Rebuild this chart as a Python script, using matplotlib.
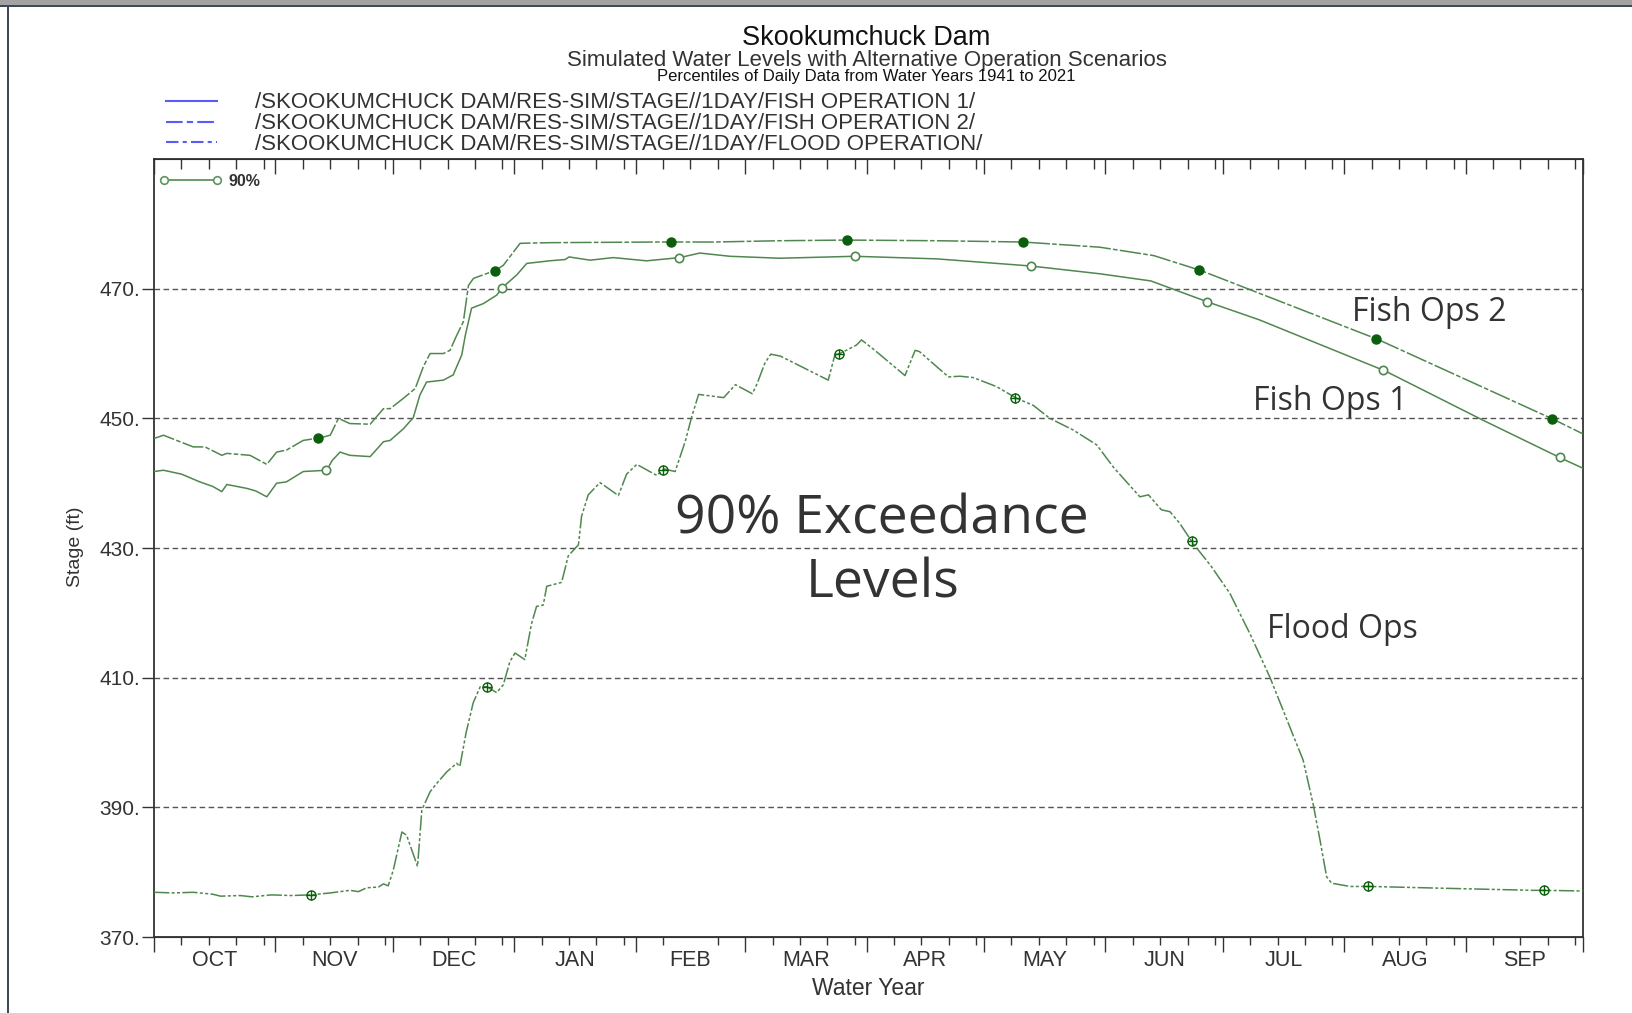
import numpy as np
import matplotlib
matplotlib.use("Agg")
import matplotlib.pyplot as plt
from matplotlib.patches import Rectangle
from matplotlib.lines import Line2D

# ---------------- data (day of water year, 0 = Oct 1) ----------------
month_names = ["OCT", "NOV", "DEC", "JAN", "FEB", "MAR", "APR", "MAY", "JUN", "JUL", "AUG", "SEP"]
month_starts = [0, 31, 61, 92, 123, 151, 182, 212, 243, 273, 304, 335, 365]
y_ticks = [370, 390, 410, 430, 450, 470]

fish1_days = [0, 2.4, 7, 11.7, 15, 17.3, 18.6, 23.7, 26, 28.8, 31.3, 33.8, 38.1, 44.1, 45.5,
              47.5, 50, 55.2, 58.6, 60.3, 63.7, 66.2, 67.9, 69.6, 73.9, 76.4, 78.6, 79.5, 81.1,
              84.1, 87.5, 89.2, 92.6, 95.2, 101, 105, 106, 111.4, 117.3, 125.8, 134.3, 139.4,
              147.1, 159.9, 179, 200, 224, 241.6, 254.6, 269.4, 282.3, 314.5, 339.5, 359.6, 365]
fish1_vals = [441.8, 442.0, 441.4, 440.2, 439.5, 438.7, 439.8, 439.2, 438.8, 437.9, 440.0, 440.2,
              441.8, 442.0, 443.5, 444.8, 444.3, 444.1, 446.4, 446.6, 448.4, 450.1, 453.6, 455.6,
              455.9, 456.7, 459.8, 462.8, 467.0, 467.7, 469.0, 470.3, 472.1, 473.9, 474.3, 474.5,
              474.9, 474.4, 474.8, 474.3, 474.8, 475.5, 475.0, 474.7, 475.0, 474.6, 473.5, 472.3,
              471.2, 467.9, 465.2, 457.3, 449.7, 443.8, 442.3]

fish2_days = [0, 2.4, 10, 13, 17.3, 18.6, 24.5, 28.8, 31.3, 33.8, 38.1, 42.4, 45, 47.1, 50, 55.2,
              58.6, 60.3, 63.7, 66.7, 68.8, 70.5, 73.9, 75.6, 77.3, 79, 80.3, 81.6, 87.1, 89.2,
              93.5, 101, 128.4, 142.8, 159.9, 177, 200, 222, 241.6, 255.4, 267.4, 312.5, 357.6, 365]
fish2_vals = [446.9, 447.4, 445.6, 445.6, 444.3, 444.6, 444.3, 442.9, 444.8, 445.1, 446.6, 447.0,
              447.4, 450.0, 449.2, 449.1, 451.5, 451.5, 453.1, 454.6, 458.0, 460.0, 460.0, 460.5,
              462.8, 464.9, 470.5, 471.6, 472.8, 473.6, 477.0, 477.1, 477.2, 477.2, 477.4, 477.5,
              477.4, 477.2, 476.4, 475.1, 472.8, 462.2, 449.8, 447.6]

flood_days = [0, 5, 10, 15, 17, 22, 25, 30, 35, 40, 45, 50, 52.2, 54.3, 57.3, 58.6, 59.8, 61.1,
              63.3, 64.5, 67.3, 68.4, 70.5, 72.2, 74.8, 77.3, 78.1, 79.7, 81.5, 83.3, 85, 87.5,
              89.2, 90.9, 92.2, 94.7, 96.4, 97.7, 99.4, 100.3, 104.1, 105.8, 108.4, 109.2, 110.9,
              113.9, 118.6, 120.7, 123.3, 128.4, 130.3, 133.1, 135.7, 137.4, 139.1, 145.5, 148.5,
              152.8, 154, 156, 157.5, 160, 172.2, 173.9, 175.2, 179.4, 180.7, 184.1, 191.8, 194.4,
              195.5, 202.9, 205.8, 209.2, 215.2, 220.3, 224.6, 228.8, 234.8, 240.8, 245, 251.8,
              254, 257.3, 259.5, 262, 265.4, 270, 274.8, 279.9, 285, 290.1, 293.5, 296.1, 297.8,
              299.5, 300.8, 305.5, 310.6, 331, 352.3, 355.5, 365]
flood_vals = [376.9, 376.8, 376.9, 376.6, 376.3, 376.4, 376.2, 376.5, 376.4, 376.5, 376.8, 377.2,
              377.0, 377.6, 377.7, 378.2, 377.9, 380.3, 386.2, 385.7, 380.9, 389.6, 392.4, 393.7,
              395.5, 396.8, 396.3, 401.5, 406.1, 408.6, 408.6, 407.7, 408.9, 412.5, 413.8, 412.8,
              418.3, 421.0, 421.2, 424.1, 424.7, 428.8, 430.5, 434.9, 438.2, 440.1, 438.1, 441.4,
              442.9, 441.2, 442.2, 441.8, 446.5, 450.4, 453.7, 453.2, 455.2, 453.8, 455.3, 458.5,
              459.9, 459.6, 455.9, 459.8, 460.0, 461.3, 462.1, 460.5, 456.6, 460.5, 460.3, 456.4,
              456.5, 456.3, 454.9, 453.1, 452.0, 450.0, 448.2, 445.9, 442.5, 437.9, 438.2, 435.9,
              435.6, 433.8, 430.7, 427.2, 423.0, 416.8, 410.1, 402.4, 397.3, 390.4, 385.0, 379.3,
              378.3, 377.8, 377.8, 377.5, 377.2, 377.2, 377.1]

fish1_marker_days = [44, 89, 134, 179, 224, 269, 314, 359]
fish2_marker_days = [42, 87, 132, 177, 222, 267, 312, 357]
flood_marker_days = [40, 85, 130, 175, 220, 265, 310, 355]

legend_labels = ["/SKOOKUMCHUCK DAM/RES-SIM/STAGE//1DAY/FISH OPERATION 1/",
                 "/SKOOKUMCHUCK DAM/RES-SIM/STAGE//1DAY/FISH OPERATION 2/",
                 "/SKOOKUMCHUCK DAM/RES-SIM/STAGE//1DAY/FLOOD OPERATION/"]

# ---------------- style ----------------
plt.rcParams["font.family"] = ["Liberation Sans", "DejaVu Sans"]
LINE = "#4f874f"
MARK = "#0b5e0b"
TXT = "#333333"
ANN = ["Open Sans", "DejaVu Sans"]

fig = plt.figure(figsize=(16.32, 10.13), dpi=100)
fig.patch.set_facecolor("white")
ax = fig.add_axes([0.0944, 0.075, 0.8756, 0.768])

ax.plot(fish1_days, fish1_vals, color=LINE, lw=1.1, ls="-", zorder=3)
ax.plot(fish2_days, fish2_vals, color=LINE, lw=1.1, ls=(0, (14, 1.5, 3, 1.5)), zorder=3)
ax.plot(flood_days, flood_vals, color=LINE, lw=1.1, ls=(0, (10, 1.5, 2, 1.5, 2, 1.5)), zorder=3)

ax.plot(fish1_marker_days, np.interp(fish1_marker_days, fish1_days, fish1_vals), ls="none",
        marker="o", ms=6, mfc="white", mec=LINE, mew=1.2, zorder=4)
ax.plot(fish2_marker_days, np.interp(fish2_marker_days, fish2_days, fish2_vals), ls="none",
        marker="o", ms=6.5, mfc=MARK, mec=MARK, zorder=4)
fy = np.interp(flood_marker_days, flood_days, flood_vals)
ax.plot(flood_marker_days, fy, ls="none", marker="o", ms=6.5, mfc="none", mec=MARK, mew=1.0, zorder=4)
ax.plot(flood_marker_days, fy, ls="none", marker="+", ms=6.5, mec=MARK, mew=1.0, zorder=4)

ax.set_xlim(0, 365)
ax.set_ylim(370, 490)

# grid and y ticks
ax.set_yticks(y_ticks)
ax.set_yticklabels([f"{v}." for v in y_ticks], fontsize=15, color=TXT)
ax.grid(axis="y", color="#555555", lw=1.0, ls=(0, (4, 2.5)), zorder=1)
ax.tick_params(axis="y", direction="out", length=9, width=1.0, color="#333333", pad=1)

# x ticks: month labels at mid-month, weekly minor ticks
mids = [(month_starts[i] + month_starts[i + 1]) / 2 for i in range(12)]
ax.set_xticks(mids)
ax.set_xticklabels(month_names, fontsize=15.5, color=TXT)
weekly = [m + d for m in month_starts[:-1] for d in (7, 14, 21, 28)
          if m + d < month_starts[month_starts.index(m) + 1]]
ax.set_xticks(weekly, minor=True)
ax.tick_params(axis="x", which="major", length=0, pad=9)
ax.tick_params(axis="x", which="minor", length=6, width=1.0, direction="out", color="#333333")

sec_b = ax.secondary_xaxis("bottom")
sec_b.set_xticks(month_starts)
sec_b.tick_params(length=11, width=1.0, direction="out", labelbottom=False, color="#333333")
sec_b.spines["bottom"].set_color("#333333")

sec_t = ax.secondary_xaxis("top")
sec_t.set_xticks(month_starts)
sec_t.set_xticks(weekly, minor=True)
sec_t.tick_params(which="major", length=11, width=1.0, direction="in", labeltop=False, color="#333333")
sec_t.tick_params(which="minor", length=7, width=1.0, direction="in", color="#333333")

for s in ax.spines.values():
    s.set_color("#333333")
    s.set_linewidth(1.3)

# axis labels
fig.text(0.046, 0.4606, "Stage (ft)", rotation=90, ha="center", va="center", fontsize=14, color=TXT)
fig.text(0.532, 0.024, "Water Year", ha="center", va="center", fontsize=16.5, color=TXT)

# titles
fig.text(0.531, 0.962, "Skookumchuck Dam", ha="center", va="center", fontsize=19.5, color="#111111")
fig.text(0.531, 0.9405, "Simulated Water Levels with Alternative Operation Scenarios",
         ha="center", va="center", fontsize=16, color=TXT)
fig.text(0.531, 0.9245, "Percentiles of Daily Data from Water Years 1941 to 2021",
         ha="center", va="center", fontsize=12, color="#111111")

# header legend
leg_styles = ["-", (0, (8, 2, 3, 2)), (0, (6, 2, 2, 2))]
leg_y = [0.8985, 0.878, 0.8575]
for lab, st, yy in zip(legend_labels, leg_styles, leg_y):
    fig.add_artist(Line2D([0.102, 0.1327], [yy + 0.002, yy + 0.002], transform=fig.transFigure,
                          color="#5b5bf5", lw=1.5, ls=st))
    fig.text(0.1563, yy, lab, ha="left", va="center", fontsize=16, color=TXT)

# inner "90%" legend
fig.add_artist(Line2D([0.1007, 0.1327], [0.8223, 0.8223], transform=fig.transFigure,
                      color="#5f935f", lw=1.3, marker="o", ms=5.5, mfc="white", mec="#5f935f", mew=1.2))
fig.text(0.1403, 0.8205, "90%", ha="left", va="center", fontsize=11.5, color=TXT, fontweight="bold")

# annotations
ax.text(325.6, 466.3, "Fish Ops 2", ha="center", va="center", fontsize=23, color=TXT, family=ANN)
ax.text(300.4, 452.6, "Fish Ops 1", ha="center", va="center", fontsize=23, color=TXT, family=ANN)
ax.text(186, 429.4, "90% Exceedance\nLevels", ha="center", va="center", fontsize=38.5,
        color=TXT, family=ANN, linespacing=1.27)
ax.text(303.6, 417.5, "Flood Ops", ha="center", va="center", fontsize=23, color=TXT, family=ANN)

# window frame
fig.add_artist(Rectangle((0, 0.9955), 1, 0.0045, transform=fig.transFigure, color="#a3a3a3", lw=0))
fig.add_artist(Rectangle((0, 0.9935), 1, 0.002, transform=fig.transFigure, color="#3e4a5a", lw=0))
fig.add_artist(Rectangle((0.0043, 0), 0.0013, 0.9935, transform=fig.transFigure, color="#3e4a5a", lw=0))

fig.savefig("out.png", dpi=100, facecolor="white")
